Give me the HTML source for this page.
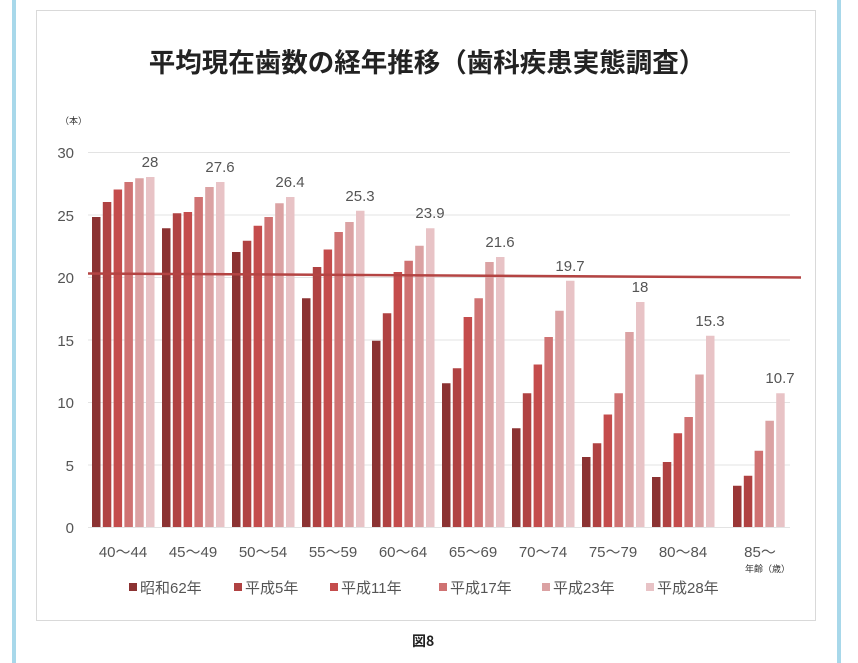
<!DOCTYPE html>
<html><head><meta charset="utf-8"><style>
html,body{margin:0;padding:0;background:#fff;}
svg{display:block;}
text{font-family:"Liberation Sans","Noto Sans CJK JP",sans-serif;}
</style></head><body>
<svg width="858" height="663" viewBox="0 0 858 663" xmlns="http://www.w3.org/2000/svg">
<rect x="12" y="0" width="4" height="663" fill="#a8d8ea"/>
<rect x="837" y="0" width="4" height="663" fill="#a8d8ea"/>
<rect x="36.5" y="10.5" width="779" height="610" fill="#fff" stroke="#d9d9d9"/>
<text x="427" y="72" font-size="26.5" font-weight="bold" text-anchor="middle" fill="#222" style="font-family:'Noto Sans CJK JP',sans-serif">平均現在歯数の経年推移（歯科疾患実態調査）</text>
<text x="60" y="124" font-size="9" fill="#333" style="font-family:'Noto Sans CJK JP',sans-serif">（本）</text>
<g stroke="#e3e3e3" stroke-width="1">
<line x1="88" y1="152.5" x2="790" y2="152.5"/><line x1="88" y1="215" x2="790" y2="215"/>
<line x1="88" y1="277.5" x2="790" y2="277.5"/><line x1="88" y1="340" x2="790" y2="340"/>
<line x1="88" y1="402.5" x2="790" y2="402.5"/><line x1="88" y1="465" x2="790" y2="465"/>
<line x1="88" y1="527.5" x2="790" y2="527.5"/>
</g>
<g font-size="15" fill="#555" text-anchor="end">
<text x="74" y="158">30</text><text x="74" y="221">25</text><text x="74" y="283">20</text>
<text x="74" y="346">15</text><text x="74" y="408">10</text><text x="74" y="471">5</text><text x="74" y="533">0</text>
</g>
<g>
<g transform="translate(92,0)">
<rect x="0" y="217" width="8.5" height="310" fill="#8b3232"/><rect x="10.8" y="202" width="8.5" height="325" fill="#b04242"/><rect x="21.6" y="189.5" width="8.5" height="337.5" fill="#c44c4c"/><rect x="32.4" y="182" width="8.5" height="345" fill="#cf7272"/><rect x="43.2" y="178.25" width="8.5" height="348.75" fill="#dba2a3"/><rect x="54" y="177" width="8.5" height="350" fill="#e8c3c6"/></g>
<g transform="translate(162,0)">
<rect x="0" y="228.25" width="8.5" height="298.75" fill="#8b3232"/><rect x="10.8" y="213.25" width="8.5" height="313.75" fill="#b04242"/><rect x="21.6" y="212" width="8.5" height="315" fill="#c44c4c"/><rect x="32.4" y="197" width="8.5" height="330" fill="#cf7272"/><rect x="43.2" y="187" width="8.5" height="340" fill="#dba2a3"/><rect x="54" y="182" width="8.5" height="345" fill="#e8c3c6"/></g>
<g transform="translate(232,0)">
<rect x="0" y="252" width="8.5" height="275" fill="#8b3232"/><rect x="10.8" y="240.75" width="8.5" height="286.25" fill="#b04242"/><rect x="21.6" y="225.75" width="8.5" height="301.25" fill="#c44c4c"/><rect x="32.4" y="217" width="8.5" height="310" fill="#cf7272"/><rect x="43.2" y="203.25" width="8.5" height="323.75" fill="#dba2a3"/><rect x="54" y="197" width="8.5" height="330" fill="#e8c3c6"/></g>
<g transform="translate(302,0)">
<rect x="0" y="298.25" width="8.5" height="228.75" fill="#8b3232"/><rect x="10.8" y="267" width="8.5" height="260" fill="#b04242"/><rect x="21.6" y="249.5" width="8.5" height="277.5" fill="#c44c4c"/><rect x="32.4" y="232" width="8.5" height="295" fill="#cf7272"/><rect x="43.2" y="222" width="8.5" height="305" fill="#dba2a3"/><rect x="54" y="210.75" width="8.5" height="316.25" fill="#e8c3c6"/></g>
<g transform="translate(372,0)">
<rect x="0" y="340.75" width="8.5" height="186.25" fill="#8b3232"/><rect x="10.8" y="313.25" width="8.5" height="213.75" fill="#b04242"/><rect x="21.6" y="272" width="8.5" height="255" fill="#c44c4c"/><rect x="32.4" y="260.75" width="8.5" height="266.25" fill="#cf7272"/><rect x="43.2" y="245.75" width="8.5" height="281.25" fill="#dba2a3"/><rect x="54" y="228.25" width="8.5" height="298.75" fill="#e8c3c6"/></g>
<g transform="translate(442,0)">
<rect x="0" y="383.25" width="8.5" height="143.75" fill="#8b3232"/><rect x="10.8" y="368.25" width="8.5" height="158.75" fill="#b04242"/><rect x="21.6" y="317" width="8.5" height="210" fill="#c44c4c"/><rect x="32.4" y="298.25" width="8.5" height="228.75" fill="#cf7272"/><rect x="43.2" y="262" width="8.5" height="265" fill="#dba2a3"/><rect x="54" y="257" width="8.5" height="270" fill="#e8c3c6"/></g>
<g transform="translate(512,0)">
<rect x="0" y="428.25" width="8.5" height="98.75" fill="#8b3232"/><rect x="10.8" y="393.25" width="8.5" height="133.75" fill="#b04242"/><rect x="21.6" y="364.5" width="8.5" height="162.5" fill="#c44c4c"/><rect x="32.4" y="337" width="8.5" height="190" fill="#cf7272"/><rect x="43.2" y="310.75" width="8.5" height="216.25" fill="#dba2a3"/><rect x="54" y="280.75" width="8.5" height="246.25" fill="#e8c3c6"/></g>
<g transform="translate(582,0)">
<rect x="0" y="457" width="8.5" height="70" fill="#8b3232"/><rect x="10.8" y="443.25" width="8.5" height="83.75" fill="#b04242"/><rect x="21.6" y="414.5" width="8.5" height="112.5" fill="#c44c4c"/><rect x="32.4" y="393.25" width="8.5" height="133.75" fill="#cf7272"/><rect x="43.2" y="332" width="8.5" height="195" fill="#dba2a3"/><rect x="54" y="302" width="8.5" height="225" fill="#e8c3c6"/></g>
<g transform="translate(652,0)">
<rect x="0" y="477" width="8.5" height="50" fill="#8b3232"/><rect x="10.8" y="462" width="8.5" height="65" fill="#b04242"/><rect x="21.6" y="433.25" width="8.5" height="93.75" fill="#c44c4c"/><rect x="32.4" y="417" width="8.5" height="110" fill="#cf7272"/><rect x="43.2" y="374.5" width="8.5" height="152.5" fill="#dba2a3"/><rect x="54" y="335.75" width="8.5" height="191.25" fill="#e8c3c6"/></g>
<g transform="translate(733,0)">
<rect x="0" y="485.75" width="8.5" height="41.25" fill="#9a3636"/><rect x="10.8" y="475.75" width="8.5" height="51.25" fill="#b04242"/><rect x="21.6" y="450.75" width="8.5" height="76.25" fill="#cf7272"/><rect x="32.4" y="420.75" width="8.5" height="106.25" fill="#dba2a3"/><rect x="43.2" y="393.25" width="8.5" height="133.75" fill="#e8c3c6"/></g>
</g>
<line x1="88" y1="273.5" x2="801" y2="277.5" stroke="#b44443" stroke-width="2.5"/>
<g font-size="15" fill="#555" text-anchor="middle">
<text x="150" y="167">28</text><text x="220" y="172">27.6</text><text x="290" y="187">26.4</text>
<text x="360" y="201">25.3</text><text x="430" y="218">23.9</text><text x="500" y="247">21.6</text>
<text x="570" y="271">19.7</text><text x="640" y="292">18</text><text x="710" y="326">15.3</text>
<text x="780" y="383">10.7</text>
</g>
<g font-size="15" fill="#555" text-anchor="middle" style="font-family:'Liberation Sans','Noto Sans CJK JP',sans-serif">
<text x="123" y="557">40～44</text><text x="193" y="557">45～49</text><text x="263" y="557">50～54</text>
<text x="333" y="557">55～59</text><text x="403" y="557">60～64</text><text x="473" y="557">65～69</text>
<text x="543" y="557">70～74</text><text x="613" y="557">75～79</text><text x="683" y="557">80～84</text>
<text x="760" y="557">85～</text>
</g>
<text x="745" y="572" font-size="9" fill="#333" style="font-family:'Noto Sans CJK JP',sans-serif">年齢（歳）</text>
<g font-size="15" fill="#555" style="font-family:'Liberation Sans','Noto Sans CJK JP',sans-serif">
<rect x="129" y="583" width="8" height="8" fill="#8b3232"/><text x="140" y="593">昭和62年</text>
<rect x="234" y="583" width="8" height="8" fill="#b04242"/><text x="245" y="593">平成5年</text>
<rect x="330" y="583" width="8" height="8" fill="#c44c4c"/><text x="341" y="593">平成11年</text>
<rect x="439" y="583" width="8" height="8" fill="#cf7272"/><text x="450" y="593">平成17年</text>
<rect x="542" y="583" width="8" height="8" fill="#dba2a3"/><text x="553" y="593">平成23年</text>
<rect x="646" y="583" width="8" height="8" fill="#e8c3c6"/><text x="657" y="593">平成28年</text>
</g>
<text x="412" y="646" font-size="14" font-weight="bold" fill="#222" style="font-family:'Noto Sans CJK JP',sans-serif">図8</text>
</svg>
</body></html>
